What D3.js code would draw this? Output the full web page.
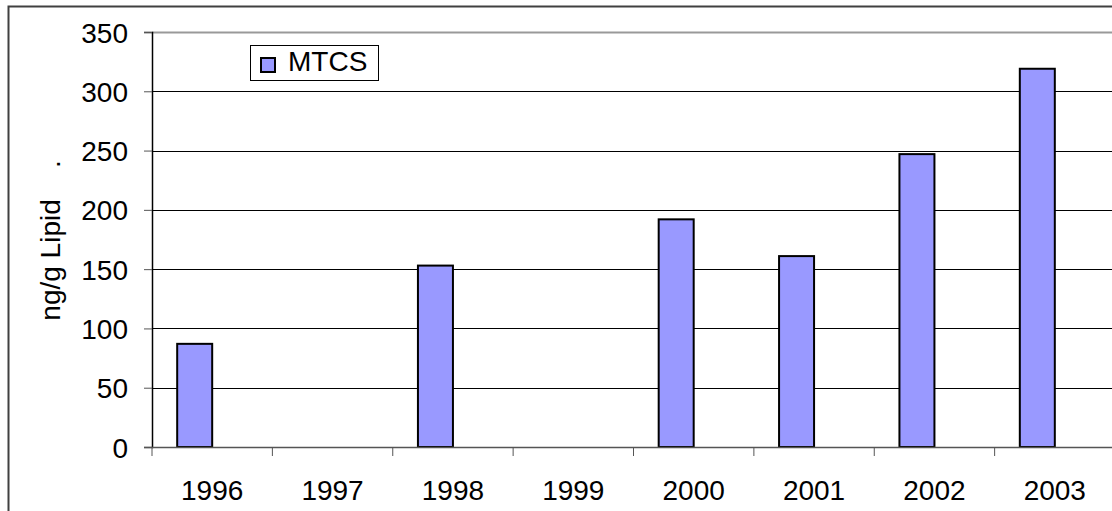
<!DOCTYPE html>
<html>
<head>
<meta charset="utf-8">
<script src="https://cdn.jsdelivr.net/npm/d3@7"></script>
<style>
  body { margin: 0; background: #fff; }
  text { font-family: "Liberation Sans", Arial, sans-serif; fill: #000; }
</style>
</head>
<body>
<div id="chart"></div>
<script>
// values
var years = ["1996", "1997", "1998", "1999", "2000", "2001", "2002", "2003"];
var mtcs = [87, null, 153, null, 192, 161, 247, 319];
var yTicks = [0, 50, 100, 150, 200, 250, 300, 350];
var seriesName = "MTCS";

var W = 1112, H = 511;
var margin = {top: 32, left: 152},
    width = 963,
    height = 415;

var svg = d3.select("#chart")
  .append("svg")
    .attr("width", W)
    .attr("height", H);

// outer frame
svg.append("rect")
  .attr("x", 8.5).attr("y", 6.5)
  .attr("width", W + 20).attr("height", H + 20)
  .attr("fill", "none")
  .attr("stroke", "#404040")
  .attr("stroke-width", 2);

var g = svg.append("g")
  .attr("transform", "translate(" + margin.left + "," + margin.top + ")");

var x = d3.scaleBand()
  .domain(years)
  .range([0, width]);

var y = d3.scaleLinear()
  .domain([0, 350])
  .range([height, 0]);

// gridlines
g.selectAll(".grid")
  .data(yTicks.filter(function(d) { return d > 0; }))
  .enter().append("line")
    .attr("x1", 0).attr("x2", width)
    .attr("y1", function(d) { return Math.round(y(d)) + 0.5; })
    .attr("y2", function(d) { return Math.round(y(d)) + 0.5; })
    .attr("stroke", function(d) { return d == 350 ? "#999" : "#000"; })
    .attr("stroke-width", function(d) { return d == 350 ? 2 : 1; });

// y axis
var yAxis = g.append("g")
  .call(d3.axisLeft(y).tickValues(yTicks).tickSize(8).tickPadding(16));
yAxis.select(".domain").attr("stroke", "#000").attr("stroke-width", 1.5);
yAxis.selectAll(".tick line").attr("stroke", "#555");
yAxis.selectAll("text").style("font-size", "28px").attr("dy", "0.36em");

// bars: left half of each category (second series slot empty)
var barW = 35;
g.selectAll(".bar")
  .data(years.map(function(d, i) { return {year: d, value: mtcs[i]}; })
    .filter(function(d) { return d.value != null; }))
  .enter().append("rect")
    .attr("x", function(d) { return x(d.year) + x.bandwidth() / 2 - barW; })
    .attr("y", function(d) { return y(d.value); })
    .attr("width", barW)
    .attr("height", function(d) { return height - y(d.value); })
    .attr("fill", "#9999ff")
    .attr("stroke", "#000")
    .attr("stroke-width", 2);

// x axis with ticks at category boundaries
var xAxis = g.append("g")
  .attr("transform", "translate(0," + height + ")");
xAxis.append("line")
  .attr("x1", 0).attr("x2", width)
  .attr("y1", 0.5).attr("y2", 0.5)
  .attr("stroke", "#555").attr("stroke-width", 1.5);
xAxis.selectAll(".xtick")
  .data(years)
  .enter().append("line")
    .attr("x1", function(d) { return x(d); })
    .attr("x2", function(d) { return x(d); })
    .attr("y1", 0).attr("y2", 9)
    .attr("stroke", "#555");
xAxis.selectAll(".xlabel")
  .data(years)
  .enter().append("text")
    .attr("x", function(d) { return x(d) + x.bandwidth() / 2; })
    .attr("y", 53)
    .attr("text-anchor", "middle")
    .style("font-size", "28px")
    .text(function(d) { return d; });

// y axis title
svg.append("text")
  .attr("transform", "translate(60," + (margin.top + height / 2 + 1) + ") rotate(-90)")
  .attr("text-anchor", "middle")
  .style("font-size", "28px")
  .style("white-space", "pre")
  .attr("xml:space", "preserve")
  .text("ng/g Lipid    .");

// legend
var leg = svg.append("g").attr("transform", "translate(250,45)");
leg.append("rect")
  .attr("x", 0.5).attr("y", 0.5)
  .attr("width", 128).attr("height", 35)
  .attr("fill", "#fff").attr("stroke", "#000");
leg.append("rect")
  .attr("x", 11).attr("y", 13)
  .attr("width", 14).attr("height", 14)
  .attr("fill", "#9999ff").attr("stroke", "#000").attr("stroke-width", 2);
leg.append("text")
  .attr("x", 38).attr("y", 26)
  .style("font-size", "28px")
  .text(seriesName);
</script>
</body>
</html>
